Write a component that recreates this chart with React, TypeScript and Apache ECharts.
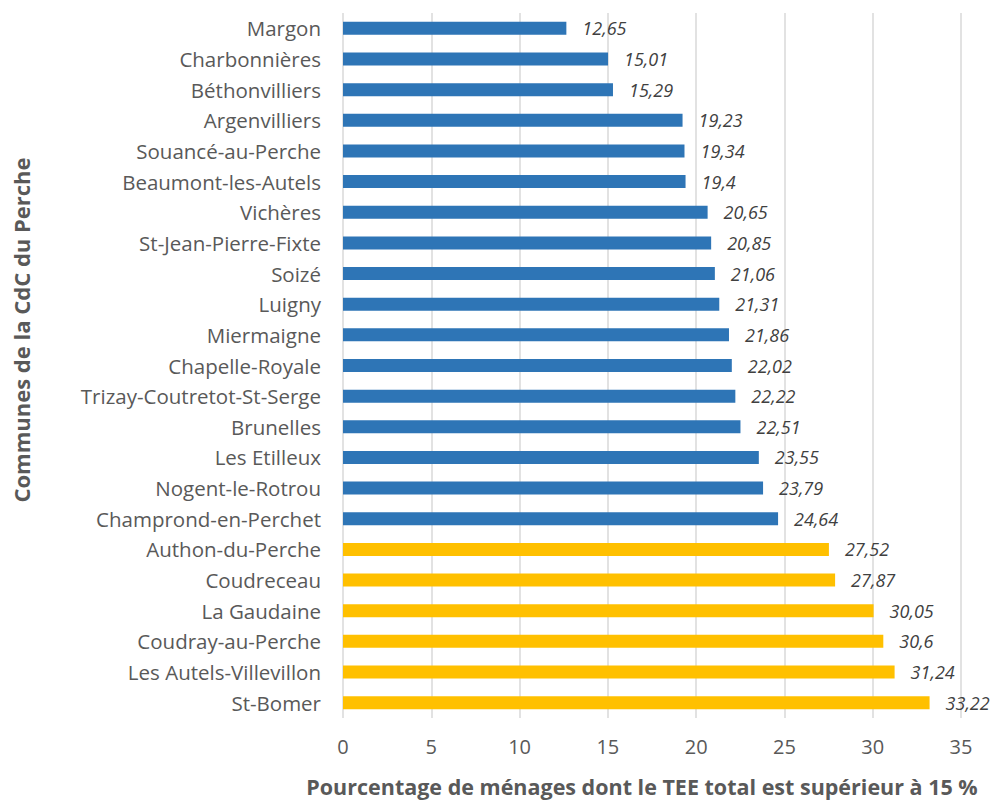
import React, { useEffect, useRef } from "react";
import * as echarts from "echarts";

const communes = [
  "Margon",
  "Charbonnières",
  "Béthonvilliers",
  "Argenvilliers",
  "Souancé-au-Perche",
  "Beaumont-les-Autels",
  "Vichères",
  "St-Jean-Pierre-Fixte",
  "Soizé",
  "Luigny",
  "Miermaigne",
  "Chapelle-Royale",
  "Trizay-Coutretot-St-Serge",
  "Brunelles",
  "Les Etilleux",
  "Nogent-le-Rotrou",
  "Champrond-en-Perchet",
  "Authon-du-Perche",
  "Coudreceau",
  "La Gaudaine",
  "Coudray-au-Perche",
  "Les Autels-Villevillon",
  "St-Bomer",
];

const pourcentages = [
  12.65, 15.01, 15.29, 19.23, 19.34, 19.4, 20.65, 20.85, 21.06, 21.31, 21.86,
  22.02, 22.22, 22.51, 23.55, 23.79, 24.64, 27.52, 27.87, 30.05, 30.6, 31.24,
  33.22,
];

// groupe: 0 = bleu, 1 = jaune
const groupes = [
  0, 0, 0, 0, 0, 0, 0, 0, 0, 0, 0, 0, 0, 0, 0, 0, 0, 1, 1, 1, 1, 1, 1,
];

const xTicks = { min: 0, max: 35, interval: 5 };

const FONT = "'Open Sans', sans-serif";

export default function App() {
  const ref = useRef<HTMLDivElement>(null);

  useEffect(() => {
    if (!ref.current) return;
    const chart = echarts.init(ref.current, undefined, { renderer: "svg" });
    const colors = ["#2E75B6", "#FFC000"];
    chart.setOption({
      animation: false,
      backgroundColor: "#ffffff",
      grid: { left: 343, right: 34, top: 13, bottom: 82, containLabel: false },
      xAxis: {
        type: "value",
        min: xTicks.min,
        max: xTicks.max,
        interval: xTicks.interval,
        axisLine: { show: false },
        axisTick: { show: false },
        splitLine: { show: true, lineStyle: { color: "#D9D9D9", width: 1.5 } },
        axisLabel: {
          margin: 18,
          color: "#595959",
          fontSize: 20,
          fontFamily: FONT,
        },
      },
      yAxis: {
        type: "category",
        inverse: true,
        data: communes,
        axisLine: { show: false },
        axisTick: { show: false },
        axisLabel: {
          margin: 22,
          color: "#595959",
          fontSize: 20.5,
          fontFamily: FONT,
        },
      },
      graphic: [
        {
          type: "text",
          x: 21,
          y: 330,
          rotation: Math.PI / 2,
          style: {
            text: "Communes de la CdC du Perche",
            fill: "#595959",
            font: `bold 22px ${FONT}`,
            align: "center",
            verticalAlign: "middle",
          },
        },
        {
          type: "text",
          x: 642,
          y: 786,
          style: {
            text: "Pourcentage de ménages dont le TEE total est supérieur à 15 %",
            fill: "#595959",
            font: `bold 21.5px ${FONT}`,
            align: "center",
            verticalAlign: "middle",
          },
        },
      ],
      series: [
        {
          type: "bar",
          barWidth: 13,
          data: pourcentages.map((v, i) => ({
            value: v,
            itemStyle: { color: colors[groupes[i]] },
          })),
          label: {
            show: true,
            position: "right",
            distance: 16,
            color: "#404040",
            fontSize: 18,
            fontStyle: "italic",
            fontFamily: FONT,
            formatter: (p: any) => String(p.value).replace(".", ","),
          },
        },
      ],
    });
    return () => chart.dispose();
  }, []);

  return (
    <div
      ref={ref}
      style={{ position: "fixed", left: 0, top: 0, width: 995, height: 800 }}
    />
  );
}
